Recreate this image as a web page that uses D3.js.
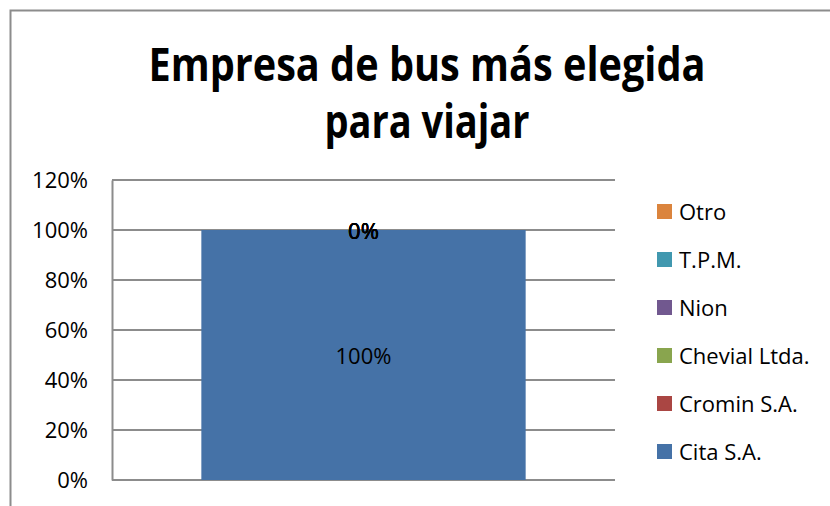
<!DOCTYPE html>
<meta charset="utf-8">
<script src="https://d3js.org/d3.v7.min.js"></script>
<style>
  body { margin: 0; background: #fff; }
  text { font-family: "Open Sans", "Noto Sans", sans-serif; }
</style>
<div id="my_div"></div>
<script>
    // data
    var categories = ["Empresa"];
    var seriesNames = ["Cita S.A.", "Cromin S.A.", "Chevial Ltda.", "Nion", "T.P.M.", "Otro"];
    var seriesValues = [1.00, 0, 0, 0, 0, 0];
    var seriesColors = ["#4572A7", "#AA4643", "#89A54E", "#71588F", "#4198AF", "#DB843D"];
    var yTicks = [0, 0.2, 0.4, 0.6, 0.8, 1.0, 1.2];
    var titleLines = ["Empresa de bus más elegida", "para viajar"];

    var W = 830, H = 506;
    var margin = {top: 180, left: 112, right: 215, bottom: 26};
    var width = W - margin.left - margin.right,
        height = H - margin.top - margin.bottom;

    var root = d3.select("#my_div").append("svg")
      .attr("width", W).attr("height", H);

    // outer chart frame (cut off at right and bottom)
    root.append("path")
      .attr("d", "M10.5," + H + "V10.5H" + W)
      .attr("fill", "none")
      .attr("stroke", "#8c8c8c")
      .attr("stroke-width", 2);

    // title
    var title = root.append("g");
    title.selectAll("text")
      .data(titleLines)
      .enter().append("text")
        .attr("x", 427)
        .attr("y", function(d, i) { return 81 + i * 57; })
        .attr("text-anchor", "middle")
        .style("font-size", "46px")
        .style("font-weight", "bold")
        .attr("textLength", function(d, i) { return i === 0 ? 557 : 205; })
        .attr("lengthAdjust", "spacingAndGlyphs")
        .text(function(d) { return d; });

    var svg = root.append("g")
      .attr("transform", "translate(" + margin.left + "," + margin.top + ")");

    var x = d3.scaleBand().domain(categories).range([0, width]).padding(0.216);
    var y = d3.scaleLinear().domain([0, 1.2]).range([height, 0]);

    // grid lines
    svg.append("g")
      .selectAll("line")
      .data(yTicks)
      .enter().append("line")
        .attr("x1", 0).attr("x2", width)
        .attr("y1", function(d) { return y(d); })
        .attr("y2", function(d) { return y(d); })
        .attr("stroke", "#8c8c8c")
        .attr("stroke-width", 2);

    // stacked bars
    var stackData = [{}];
    seriesNames.forEach(function(s, i) { stackData[0][s] = seriesValues[i]; });
    var stacked = d3.stack().keys(seriesNames)(stackData);

    svg.append("g")
      .selectAll("rect")
      .data(stacked)
      .enter().append("rect")
        .attr("x", x(categories[0]))
        .attr("width", x.bandwidth())
        .attr("y", function(d) { return y(d[0][1]); })
        .attr("height", function(d) { return y(d[0][0]) - y(d[0][1]); })
        .attr("fill", function(d, i) { return seriesColors[i]; });

    // y axis
    var yAxis = svg.append("g")
      .call(d3.axisLeft(y).tickValues(yTicks).tickSize(0).tickPadding(24)
        .tickFormat(function(d) { return Math.round(d * 100) + "%"; }));
    yAxis.select(".domain").attr("stroke", "#8c8c8c").attr("stroke-width", 2);
    yAxis.selectAll("text")
      .style("font-size", "22px")
      .style("font-family", "'Open Sans', sans-serif")
      .attr("fill", "#000")
      .attr("dy", "0.36em");

    // data labels
    svg.append("g")
      .selectAll("text")
      .data(stacked)
      .enter().append("text")
        .attr("x", x(categories[0]) + x.bandwidth() / 2)
        .attr("y", function(d) { return y((d[0][0] + d[0][1]) / 2); })
        .attr("dy", "0.4em")
        .attr("text-anchor", "middle")
        .style("font-size", "22px")
        .text(function(d, i) { return Math.round(seriesValues[i] * 100) + "%"; });

    // legend (reversed order)
    var legend = root.append("g")
      .attr("transform", "translate(657,212)");
    var items = legend.selectAll("g")
      .data(seriesNames.slice().reverse())
      .enter().append("g")
        .attr("transform", function(d, i) { return "translate(0," + (i * 48) + ")"; });
    items.append("rect")
      .attr("x", 0).attr("y", -8)
      .attr("width", 15).attr("height", 15)
      .attr("fill", function(d) { return seriesColors[seriesNames.indexOf(d)]; });
    items.append("text")
      .attr("x", 22)
      .attr("dy", "0.36em")
      .style("font-size", "22px")
      .text(function(d) { return d; });
</script>
